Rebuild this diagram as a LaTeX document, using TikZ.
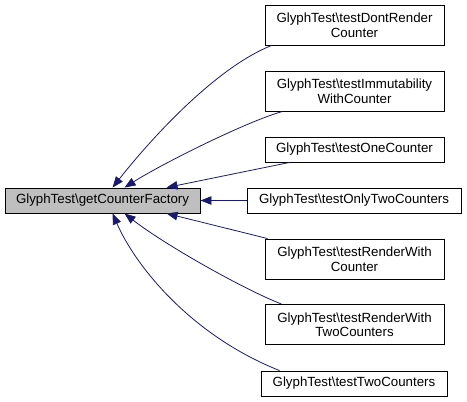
\documentclass[tikz,border=0pt]{standalone}
\usepackage{fontspec}
\setmainfont{Liberation Sans}
\usetikzlibrary{arrows.meta,calc}
\definecolor{edgeblue}{HTML}{191970}
\definecolor{boxgray}{HTML}{BFBFBF}
\tikzset{
  box/.style={draw=black, line width=0.9pt, fill=white, minimum width=179pt, inner sep=0pt, align=center, font=\fontsize{13.3}{14.5}\selectfont},
  edge/.style={draw=edgeblue, line width=0.8pt, -{Triangle[length=11pt,width=8.5pt]}, edgeblue}
}
\begin{document}
\begin{tikzpicture}[x=1pt,y=-1pt]
\useasboundingbox (0,0) rectangle (467,402);
\node[box, fill=boxgray, minimum width=195pt, minimum height=25pt] (gc) at (102.5,200.5) {GlyphTest\textbackslash getCounterFactory};
\node[box, minimum height=40pt] (n1) at (354.5,25) {GlyphTest\textbackslash testDontRender\\Counter};
\node[box, minimum height=40pt] (n2) at (354.5,91) {GlyphTest\textbackslash testImmutability\\WithCounter};
\node[box, minimum height=25pt] (n3) at (354.5,149.5) {GlyphTest\textbackslash testOneCounter};
\node[box, minimum width=214pt, minimum height=25pt] (n4) at (354,200.5) {GlyphTest\textbackslash testOnlyTwoCounters};
\node[box, minimum height=40pt] (n5) at (354.5,259) {GlyphTest\textbackslash testRenderWith\\Counter};
\node[box, minimum height=40pt] (n6) at (354.5,324.5) {GlyphTest\textbackslash testRenderWith\\TwoCounters};
\node[box, minimum width=186pt, minimum height=25pt] (n7) at (354,383.5) {GlyphTest\textbackslash testTwoCounters};

\draw[edge] ($(n1.south west)+(7,0)$) .. controls (215,68) and (150,140) .. ($(gc.north west)+(108,0)$);
\draw[edge] ($(n2.south west)+(18,0)$) .. controls (245,122) and (160,165) .. ($(gc.north west)+(120,0)$);
\draw[edge] ($(n3.south west)+(25,0)$) -- ($(gc.north west)+(162,0)$);
\draw[edge] (n4.west) -- (gc.east);
\draw[edge] ($(n5.north west)+(3,0)$) -- ($(gc.south west)+(162,0)$);
\draw[edge] ($(n6.north west)+(17,0)$) .. controls (245,290) and (165,245) .. ($(gc.south west)+(120,0)$);
\draw[edge] ($(n7.north west)+(19,0)$) .. controls (190,335) and (135,265) .. ($(gc.south west)+(108,0)$);
\end{tikzpicture}
\end{document}
